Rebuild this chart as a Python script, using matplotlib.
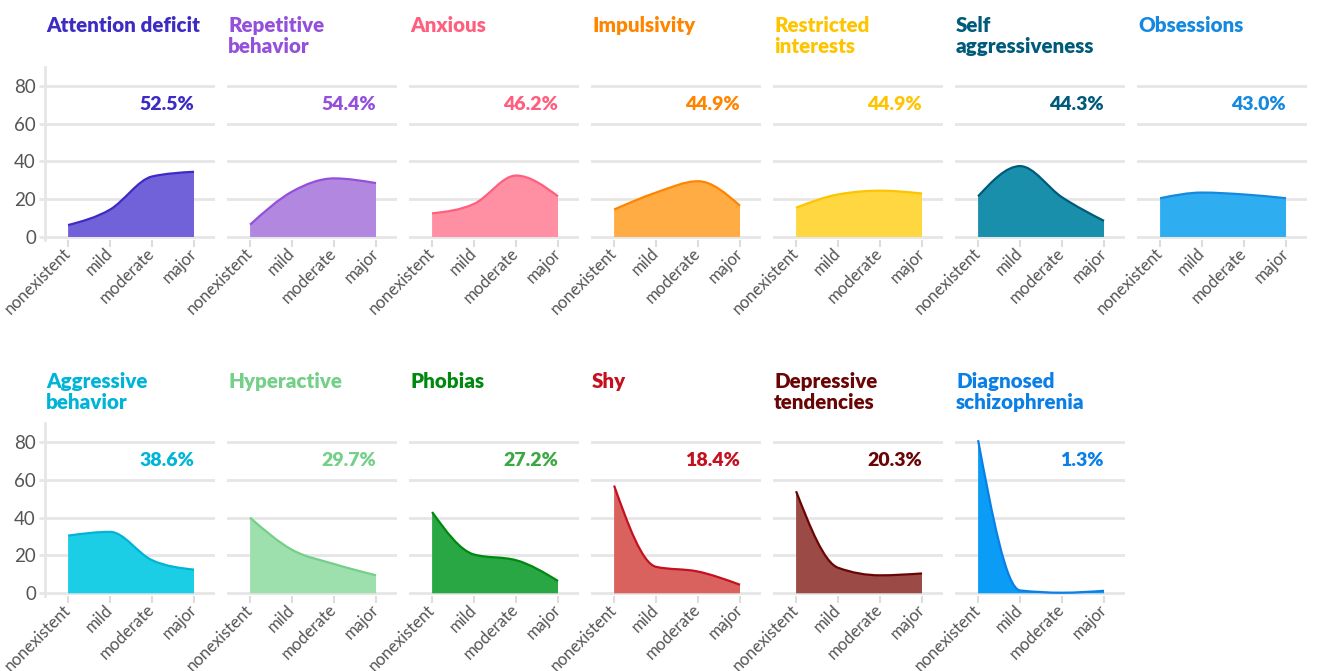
import matplotlib
matplotlib.use("Agg")
import matplotlib.pyplot as plt
import numpy as np
from matplotlib.path import Path
from matplotlib.patches import PathPatch
from matplotlib.transforms import ScaledTranslation

plt.rcParams['font.family'] = ['Lato', 'DejaVu Sans']

levels = ['nonexistent', 'mild', 'moderate', 'major']

titles = ['Attention deficit', 'Repetitive\nbehavior', 'Anxious', 'Impulsivity',
          'Restricted\ninterests', 'Self\naggressiveness', 'Obsessions',
          'Aggressive\nbehavior', 'Hyperactive', 'Phobias', 'Shy',
          'Depressive\ntendencies', 'Diagnosed\nschizophrenia']
percents = ['52.5%', '54.4%', '46.2%', '44.9%', '44.9%', '44.3%', '43.0%',
            '38.6%', '29.7%', '27.2%', '18.4%', '20.3%', '1.3%']

# share of patients (%) per severity level
attention_deficit = [6.3, 14.5, 32, 34.5]
repetitive_behavior = [6.5, 24, 31, 28.5]
anxious = [12.5, 17.5, 32.5, 21.5]
impulsivity = [14.5, 23.5, 29.5, 16.5]
restricted_interests = [15.5, 22.5, 24.5, 23]
self_aggressiveness = [21.5, 37.5, 21, 8.5]
obsessions = [20.5, 23.5, 22.5, 20.5]
aggressive_behavior = [30.5, 32.5, 17.5, 12.5]
hyperactive = [40, 23, 15.5, 9.5]
phobias = [43, 20.5, 17.5, 6.5]
shy = [57, 14, 11.5, 4.5]
depressive_tendencies = [54, 13.5, 9.5, 10.5]
schizophrenia = [81, 1.5, 0.3, 1.3]

series = [attention_deficit, repetitive_behavior, anxious, impulsivity,
          restricted_interests, self_aggressiveness, obsessions,
          aggressive_behavior, hyperactive, phobias, shy,
          depressive_tendencies, schizophrenia]

line_colors = ['#3d2bc4', '#9450db', '#ff5f7e', '#ff8500', '#ffc400', '#005a7a',
               '#1589e0', '#00b4d8', '#74cf88', '#00890f', '#c4101f', '#6a0505',
               '#0a7fe6']
fill_colors = ['#7262da', '#b187e0', '#ff90a4', '#ffac45', '#ffd740', '#1a8fab',
               '#2eaef0', '#1ccde6', '#9de0ae', '#2aa745', '#d9625e', '#9c4a46',
               '#0b9df5']
pct_colors = list(line_colors)
pct_colors[9] = '#3aa843'


def monotone_slopes(x, y):
    # same tangents as d3.curveMonotoneX
    n = len(x)
    h = np.diff(x)
    s = np.diff(y) / h
    t = np.zeros(n)
    for i in range(1, n - 1):
        p = (s[i - 1] * h[i] + s[i] * h[i - 1]) / (h[i - 1] + h[i])
        t[i] = (np.sign(s[i - 1]) + np.sign(s[i])) * min(abs(s[i - 1]), abs(s[i]), 0.5 * abs(p))
    t[0] = (3 * s[0] - t[1]) / 2
    t[-1] = (3 * s[-1] - t[-2]) / 2
    return t


def curve_verts(x, y):
    t = monotone_slopes(x, y)
    verts = []
    codes = []
    for i in range(len(x) - 1):
        dx = (x[i + 1] - x[i]) / 3
        verts += [(x[i] + dx, y[i] + dx * t[i]),
                  (x[i + 1] - dx, y[i + 1] - dx * t[i + 1]),
                  (x[i + 1], y[i + 1])]
        codes += [Path.CURVE4] * 3
    return verts, codes


fig = plt.figure(figsize=(13.22, 6.71), dpi=100)
W, H = 1322, 671
grid_col = '#e6e6e6'
text_col = '#555555'
label_shift = ScaledTranslation(3 / 100, 0, fig.dpi_scale_trans)

for i, vals in enumerate(series):
    row, col = divmod(i, 7)
    left = (45 + 182 * col) / W
    bottom = 0.6426 if row == 0 else 0.1116
    ax = fig.add_axes([left, bottom, 170 / W, 0.2577])
    x = np.arange(len(levels), dtype=float)
    y = np.array(vals, dtype=float)

    cv, cc = curve_verts(x, y)
    area = Path([(x[0], 0), (x[0], y[0])] + cv + [(x[-1], 0), (x[0], 0)],
                [Path.MOVETO, Path.LINETO] + cc + [Path.LINETO, Path.CLOSEPOLY])
    ax.add_patch(PathPatch(area, facecolor=fill_colors[i], edgecolor='none', zorder=2))
    edge = Path([(x[0], y[0])] + cv, [Path.MOVETO] + cc)
    ax.add_patch(PathPatch(edge, facecolor='none', edgecolor=line_colors[i], lw=1.6, zorder=3))

    ax.set_xlim(-0.55, 3.5)
    ax.set_ylim(-1.5, 90)
    ax.set_yticks([0, 20, 40, 60, 80])
    ax.yaxis.grid(True, color=grid_col, lw=2)
    ax.set_axisbelow(True)
    for sp in ['top', 'right', 'bottom']:
        ax.spines[sp].set_visible(False)
    ax.set_xticks(x)
    ax.set_xticklabels(levels, rotation=45, ha='right', va='center',
                       rotation_mode='anchor', fontsize=12, color=text_col)
    for lab in ax.get_xticklabels():
        lab.set_transform(lab.get_transform() + label_shift)
    ax.tick_params(axis='x', length=5, width=1.5, color='#dddddd', pad=3)
    if col == 0:
        ax.spines['left'].set_color(grid_col)
        ax.spines['left'].set_linewidth(2)
        ax.spines['left'].set_bounds(-1.5, 90)
        ax.tick_params(axis='y', length=4.5, width=2, color=grid_col,
                       labelsize=13.5, labelcolor=text_col, pad=2)
    else:
        ax.spines['left'].set_visible(False)
        ax.tick_params(axis='y', length=0, labelleft=False)

    ax.text(3, 70, percents[i], ha='right', va='center', fontsize=14,
            fontweight='heavy', color=pct_colors[i])

    ty = 1 - (16 if row == 0 else 372) / H
    fig.text(left + 1 / W, ty, titles[i], ha='left', va='top', fontsize=14.8,
             fontweight='heavy', color=line_colors[i], linespacing=1.14)

fig.savefig('out.png', dpi=100, facecolor='white')
